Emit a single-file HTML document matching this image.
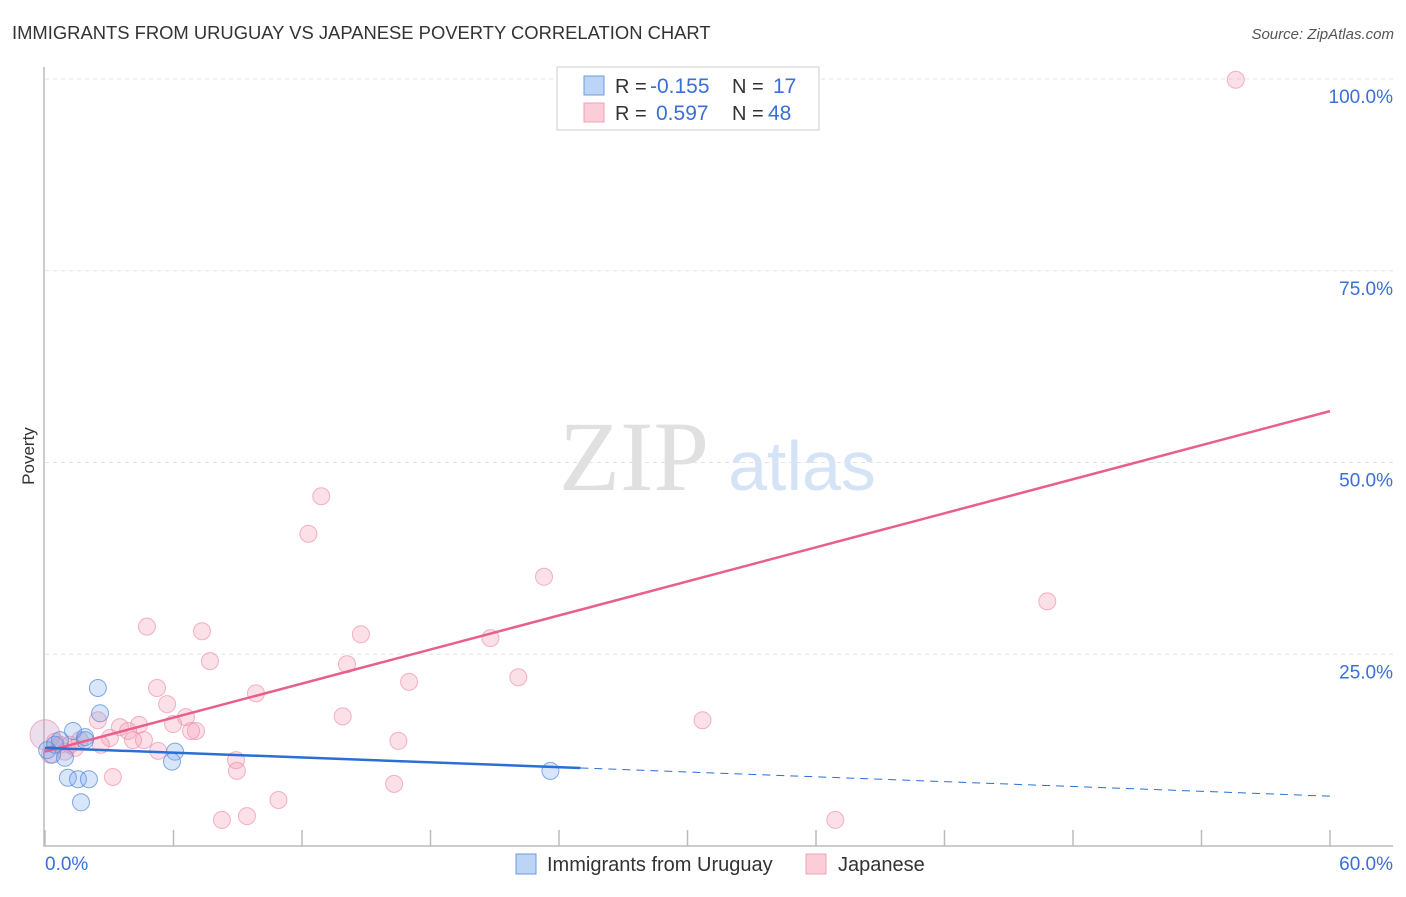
<!DOCTYPE html>
<html><head><meta charset="utf-8"><style>
body{margin:0;background:#fff;font-family:"Liberation Sans",sans-serif;}
</style></head><body>
<svg id="c" width="1406" height="892" viewBox="0 0 1406 892" font-family="Liberation Sans, sans-serif">
<text x="12" y="39" font-size="18.4" fill="#333">IMMIGRANTS FROM URUGUAY VS JAPANESE POVERTY CORRELATION CHART</text>
<text x="1394" y="39" font-size="15" fill="#555" font-style="italic" text-anchor="end">Source: ZipAtlas.com</text>
<text x="634" y="490" font-size="100" fill="#e0e0e0" style="font-family:'Liberation Serif',serif" text-anchor="middle">ZIP</text>
<text x="802" y="490" font-size="70" fill="#d5e3f6" text-anchor="middle">atlas</text>
<text x="34" y="456" font-size="17" fill="#333" transform="rotate(-90 34 456)" text-anchor="middle">Poverty</text>
<g id="grid"></g><g id="pts"></g><g id="lines"></g>
<g>
<rect x="557" y="67" width="262" height="63" fill="#fff" stroke="#ccc"/>
<rect x="584" y="76" width="20" height="19" fill="#bcd4f5" stroke="#6b9ce0"/>
<rect x="584" y="103" width="20" height="19" fill="#fbcdd9" stroke="#f0a0b8"/>
<text x="615" y="93" font-size="20" fill="#333">R = </text><text x="650" y="93" font-size="21" fill="#3a6fd8">-0.155</text>
<text x="732" y="93" font-size="20" fill="#333">N = </text><text x="773" y="93" font-size="21" fill="#3a6fd8">17</text>
<text x="615" y="120" font-size="20" fill="#333">R = </text><text x="656" y="120" font-size="21" fill="#3a6fd8">0.597</text>
<text x="732" y="120" font-size="20" fill="#333">N = </text><text x="768" y="120" font-size="21" fill="#3a6fd8">48</text>
</g>
<g>
<rect x="516" y="854" width="20" height="20" fill="#bcd4f5" stroke="#6b9ce0"/>
<text x="547" y="871" font-size="20" fill="#333">Immigrants from Uruguay</text>
<rect x="806" y="854" width="20" height="20" fill="#fbcdd9" stroke="#f0a0b8"/>
<text x="838" y="871" font-size="20" fill="#333">Japanese</text>
</g>
</svg>
<script>
const xTicks=[0,6,12,18,24,30,36,42,48,54,60];
const yTicks=[25,50,75,100];
const yTickLabels=["25.0%","50.0%","75.0%","100.0%"];
const blueX=[2.47,2.57,1.31,1.87,0.93,1.07,1.54,2.05,1.68,6.07,5.93,23.6,0.1,0.47,0.7,0.33,1.87];
const blueY=[20.6,17.3,15.0,14.2,11.5,8.9,8.7,8.7,5.7,12.3,11.0,9.8,12.5,13.2,13.8,11.9,13.8];
const pinkX=[55.6,12.9,12.3,23.3,46.8,4.76,7.33,14.75,20.8,7.7,14.1,17.0,22.1,5.23,9.85,5.7,13.9,30.7,2.47,6.58,5.98,4.39,3.5,7.05,3.88,6.82,4.62,4.11,3.03,2.61,0.7,5.28,8.92,8.96,16.5,3.17,16.3,10.9,9.43,8.26,36.9,0,0.47,1.4,0.23,1.17,1.63,0.93];
const pinkY=[99.9,45.6,40.7,35.1,31.9,28.6,28.0,27.6,27.1,24.1,23.7,21.4,22.0,20.6,19.9,18.5,16.9,16.4,16.4,16.8,15.9,15.8,15.5,15.0,15.0,15.0,13.8,13.8,14.1,13.2,13.2,12.4,11.2,9.8,13.7,9.0,8.1,6.0,3.9,3.4,3.4,14.5,13.6,12.8,11.9,13.2,13.8,12.3];
const pinkTrend=[12.3,56.7];
const blueTrend=[12.8,6.5];
const blueSolidEnd=25;
const NS="http://www.w3.org/2000/svg";
const X=v=>45+v/60*1285, Y=v=>846-v*7.67;
function mk(t,a,p){const e=document.createElementNS(NS,t);for(const k in a)e.setAttribute(k,a[k]);document.getElementById(p).appendChild(e);return e;}
yTicks.forEach((t,i)=>{
 const l=mk('line',{x1:45,x2:1393,y1:Y(t),y2:Y(t),stroke:'#e3e3e3','stroke-dasharray':'4,4'},'grid');
 
 
 const tx=mk('text',{x:1393,y:Y(t)+24,'font-size':19,fill:'#3a6fd8','text-anchor':'end'},'grid');
 tx.textContent=yTickLabels[i];
 
 
});
const ax=mk('path',{d:'M44 67V846H1393',fill:'none',stroke:'#bbb','stroke-width':1.5},'grid');


xTicks.forEach(t=>{
 const l=mk('line',{x1:X(t),x2:X(t),y1:830,y2:846,stroke:'#bbb','stroke-width':1.5},'grid');
 
 
});
[["0.0%",45,'start'],["60.0%",1393,'end']].forEach(a=>{
 const tx=mk('text',{x:a[1],y:870,'font-size':19,fill:'#3a6fd8','text-anchor':a[2]},'grid');
 tx.textContent=a[0];
 
 
});
pinkX.forEach((x,i)=>{
 const c=mk('circle',{cx:X(x),cy:Y(pinkY[i]),r:(i==41?15:8.5),fill:(i==41?'rgba(200,160,200,0.35)':'rgba(245,160,185,0.32)'),stroke:'rgba(235,140,170,0.65)'},'pts');
 
 
});
blueX.forEach((x,i)=>{
 const c=mk('circle',{cx:X(x),cy:Y(blueY[i]),r:8.5,fill:'rgba(120,165,235,0.28)',stroke:'rgba(80,135,220,0.7)'},'pts');
 
 
});
const pl=mk('line',{x1:X(0),y1:Y(pinkTrend[0]),x2:X(60),y2:Y(pinkTrend[1]),stroke:'#e8608a','stroke-width':2.5},'lines');


const bm=blueTrend[0]+(blueTrend[1]-blueTrend[0])*blueSolidEnd/60;
const bl=mk('line',{x1:X(0),y1:Y(blueTrend[0]),x2:X(blueSolidEnd),y2:Y(bm),stroke:'#2a6fd6','stroke-width':2.5},'lines');


const bd=mk('line',{x1:X(blueSolidEnd),y1:Y(bm),x2:X(60),y2:Y(blueTrend[1]),stroke:'#2a6fd6','stroke-width':1,'stroke-dasharray':'8,6'},'lines');


</script>
</body></html>
